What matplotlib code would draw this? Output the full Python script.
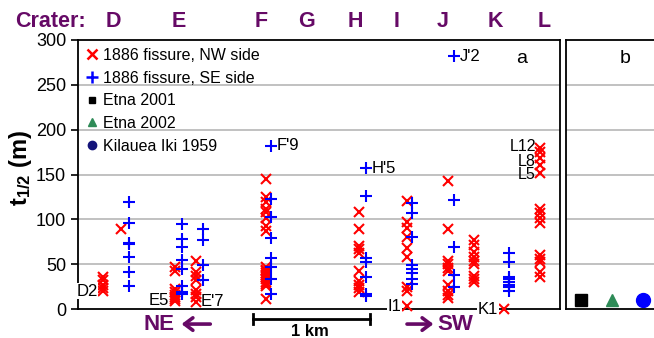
import matplotlib
matplotlib.use('Agg')
import matplotlib.pyplot as plt
from matplotlib.lines import Line2D

plt.rcParams['font.family'] = ['Liberation Sans', 'DejaVu Sans']
plt.rcParams['mathtext.fontset'] = 'custom'
plt.rcParams['mathtext.rm'] = 'Liberation Sans'
plt.rcParams['mathtext.bf'] = 'Liberation Sans:bold'

# crater names and their position along the fissure (km)
craters = ['D', 'E', 'F', 'G', 'H', 'I', 'J', 'K', 'L']
crater_pos = [0.31, 0.88, 1.59, 1.99, 2.41, 2.77, 3.17, 3.63, 4.05]

# 1886 fissure, NW side (red x): column position (km) and t1/2 values (m)
nw_pos = [0.22, 0.37, 0.84, 1.03, 1.63, 2.44, 2.86, 3.22, 3.44, 3.70, 4.02]
nw_vals = [
    [36, 32, 27, 23, 20],
    [89],
    [47, 42, 22, 19, 16, 13, 11, 9],
    [53, 41, 37, 32, 21, 17, 13, 8],
    [145, 125, 119, 111, 108, 102, 93, 87, 47, 44, 42, 40, 38, 36, 33, 30, 28, 26, 11],
    [108, 89, 70, 67, 62, 42, 31, 27, 23, 19],
    [120, 97, 90, 80, 68, 58, 24, 20, 3],
    [143, 89, 54, 50, 46, 42, 27, 20, 16, 12],
    [77, 71, 64, 58, 53, 50, 37, 33, 30],
    [0],
    [179, 175, 168, 161, 152, 112, 107, 101, 96, 60, 56, 52, 41, 36],
]

# 1886 fissure, SE side (blue +)
se_pos = [0.44, 0.90, 1.09, 1.68, 2.50, 2.90, 3.27, 3.75]
se_vals = [
    [119, 96, 74, 72, 58, 41, 26],
    [95, 78, 69, 55, 45, 26, 19, 17],
    [89, 77, 49, 32],
    [182, 123, 103, 79, 57, 47, 34, 17],
    [157, 126, 57, 52, 36, 17, 14],
    [118, 107, 80, 49, 45, 40, 34, 28],
    [282, 122, 69, 38, 25],
    [62, 52, 36, 33, 30, 27, 24, 20],
]

# labelled samples: (text, position, value)
sample_labels = [("D2", 0.22, 20), ("E5", 0.84, 9), ("E'7", 1.03, 8),
                 ("F'9", 1.68, 182), ("H'5", 2.50, 157), ("I1", 2.86, 3),
                 ("J'2", 3.27, 282), ("K1", 3.70, 0),
                 ("L12", 4.02, 181), ("L8", 4.02, 165), ("L5", 4.02, 150)]

# panel b
other_names = ['Etna 2001', 'Etna 2002', 'Kilauea Iki 1959']
other_vals = [10, 10, 10]

purple = '#660a66'

fig = plt.figure(figsize=(6.54, 3.38), dpi=100)
ax = fig.add_axes([78/654, 29/338, 482/654, 269/338])
axb = fig.add_axes([566/654, 29/338, 94/654, 269/338])

for a in (ax, axb):
    a.set_ylim(0, 300)
    for y in range(50, 300, 50):
        a.axhline(y, color='#b0b0b0', lw=1.1, zorder=0)
    for s in a.spines.values():
        s.set_linewidth(1.3)

for x, vals in zip(nw_pos, nw_vals):
    ax.plot([x] * len(vals), vals, 'x', color='red', ms=7.5, mew=1.5, ls='none', clip_on=False, zorder=3)
for x, vals in zip(se_pos, se_vals):
    ax.plot([x] * len(vals), vals, '+', color='blue', ms=9, mew=1.5, ls='none', clip_on=False, zorder=3)

for txt, x, y in sample_labels:
    if txt in ("F'9", "H'5", "J'2"):
        ax.text(x + 0.05, y, txt, fontsize=12, ha='left', va='center')
    elif txt.startswith('L'):
        ax.text(x - 0.04, y, txt, fontsize=11.5, ha='right', va='center')
    elif txt in ("D2", "I1", "K1"):
        # these sit on the axis lines, so they get a white box
        ax.text(x - 0.05, y, txt, fontsize=12, ha='right', va='center', zorder=5, clip_on=False,
                bbox=dict(fc='white', ec='none', pad=0.5))
    elif txt == "E5":
        ax.text(x - 0.05, y, txt, fontsize=12, ha='right', va='center')
    else:
        ax.text(x + 0.04, y, txt, fontsize=12, ha='left', va='center')

ax.set_xlim(0, 4.19)
ax.set_xticks([])
ax.set_yticks(range(0, 301, 50))
ax.tick_params(axis='y', labelsize=13, length=5, width=1.2)
ax.text(0.921, 0.933, 'a', transform=ax.transAxes, fontsize=14, ha='center', va='center')

# legend
handles = [
    Line2D([], [], marker='x', color='red', ls='none', ms=7, mew=1.8),
    Line2D([], [], marker='+', color='blue', ls='none', ms=8, mew=1.8),
    Line2D([], [], marker='s', color='black', ls='none', ms=5),
    Line2D([], [], marker='^', color='#2e8b57', ls='none', ms=5.5),
    Line2D([], [], marker='o', color='#14147a', ls='none', ms=6),
]
labels = ['1886 fissure, NW side', '1886 fissure, SE side'] + other_names
ax.legend(handles, labels, loc='upper left', bbox_to_anchor=(0.0, 1.0), frameon=False,
          fontsize=11.5, handlelength=0.7, handletextpad=0.35, labelspacing=0.48,
          borderaxespad=0.3, borderpad=0.2)

# panel b
axb.set_xlim(0, 1)
axb.set_xticks([])
axb.set_yticks([])
axb.spines['right'].set_visible(False)
bx = [0.156, 0.486, 0.816]
axb.plot(bx[0], other_vals[0], 's', color='black', ms=8)
axb.plot(bx[1], other_vals[1], '^', color='#2e8b57', ms=9)
axb.plot(bx[2], other_vals[2], 'o', color='blue', ms=10)
axb.text(0.628, 0.933, 'b', transform=axb.transAxes, fontsize=14, ha='center', va='center')

# crater labels on top
fig.text(15/654, 1 - 21.5/338, 'Crater:', fontsize=15.5, fontweight='bold', color=purple, va='center')
for c, x in zip(craters, crater_pos):
    ax.text(x, 1.0 + 18.5/269, c, transform=ax.get_xaxis_transform(), fontsize=15.5,
            fontweight='bold', color=purple, ha='center', va='center')

fig.text(21/654, 1 - 168/338, r'$\mathbf{t_{1/2}}$ (m)', rotation=90, fontsize=17,
         fontweight='bold', ha='center', va='center')

# direction arrows and scale bar
tr = ax.get_xaxis_transform()
arrow = dict(arrowstyle='->,head_length=0.6,head_width=0.45', lw=2.6, color=purple,
             shrinkA=0, shrinkB=0)
ax.text(0.70, -0.056, 'NE', transform=tr, fontsize=16, fontweight='bold', color=purple,
        ha='center', va='center', clip_on=False)
ax.annotate('', xy=(0.90, -0.056), xytext=(1.15, -0.056), xycoords=tr, textcoords=tr,
            arrowprops=arrow, annotation_clip=False)
ax.text(3.28, -0.056, 'SW', transform=tr, fontsize=16, fontweight='bold', color=purple,
        ha='center', va='center', clip_on=False)
ax.annotate('', xy=(3.09, -0.056), xytext=(2.86, -0.056), xycoords=tr, textcoords=tr,
            arrowprops=arrow, annotation_clip=False)
ax.plot([1.52, 2.54], [-0.037, -0.037], color='black', lw=2, transform=tr, clip_on=False)
for xe in (1.52, 2.54):
    ax.plot([xe, xe], [-0.054, -0.020], color='black', lw=2, transform=tr, clip_on=False)
ax.text(2.02, -0.085, '1 km', transform=tr, fontsize=12, fontweight='bold', ha='center',
        va='center', clip_on=False)

fig.savefig('out.png', dpi=100)
